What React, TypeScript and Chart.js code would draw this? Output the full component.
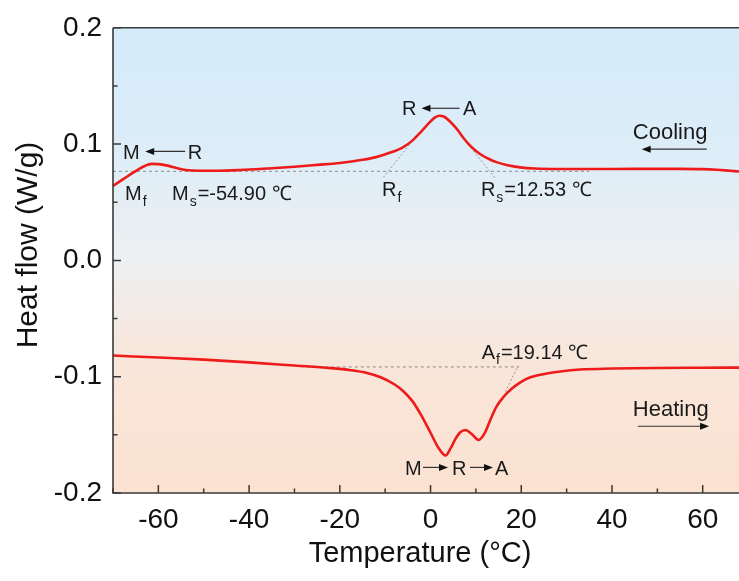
import React, { useEffect, useRef } from 'react';
import { Chart, registerables } from 'chart.js';

Chart.register(...registerables);

// ---- data (temperature in °C, heat flow in W/g) ----
const coolingT = [-70, -67.5, -65, -63, -61.5, -60, -58, -56, -54, -51, -47, -42, -36, -30, -25, -20, -15, -12, -9, -6, -4, -2, 0, 1, 2, 3, 4.4, 6, 7.3, 9, 11, 13, 14.7, 17, 19.8, 23, 28, 35, 45, 55, 60, 63, 66, 68];
const coolingHF = [0.064, 0.0705, 0.0768, 0.0812, 0.083, 0.0828, 0.0815, 0.0795, 0.0778, 0.0771, 0.0771, 0.0777, 0.079, 0.0805, 0.0821, 0.0838, 0.0865, 0.0888, 0.0925, 0.0975, 0.103, 0.111, 0.1195, 0.123, 0.1244, 0.1235, 0.119, 0.112, 0.105, 0.0975, 0.0913, 0.087, 0.0843, 0.0818, 0.08, 0.079, 0.0786, 0.0786, 0.0787, 0.0787, 0.0785, 0.078, 0.0771, 0.0765];

const heatingT = [-70, -60, -50, -40, -30, -22, -17.6, -14, -11, -8, -6, -4, -2, 0, 1.8, 3.3, 4.5, 5.5, 6.5, 7.7, 9, 10.6, 12, 13.2, 14.5, 16.1, 18, 19.8, 22, 24.2, 28.6, 33, 40, 50, 60, 68];
const heatingHF = [-0.0818, -0.0835, -0.0853, -0.0877, -0.0904, -0.0926, -0.0944, -0.0968, -0.1005, -0.1065, -0.1125, -0.121, -0.1335, -0.1482, -0.1615, -0.1678, -0.161, -0.1535, -0.148, -0.1458, -0.149, -0.1544, -0.148, -0.137, -0.126, -0.1174, -0.11, -0.1048, -0.1005, -0.0983, -0.0955, -0.0938, -0.093, -0.0925, -0.0923, -0.0922];

const coolBaseT = [-70, 35];
const coolBaseHF = [0.0766, 0.0766];
const heatBaseT = [-28.6, 19.5];
const heatBaseHF = [-0.0916, -0.0916];
const rfTangentT = [-10.4, -3.7];
const rfTangentHF = [0.0714, 0.104];
const rsTangentT = [9.5, 14.3];
const rsTangentHF = [0.094, 0.0706];
const afTangentT = [16.5, 19.3];
const afTangentHF = [-0.113, -0.0905];

const xMin = -70;
const xMax = 68;
const yMin = -0.2;
const yMax = 0.2;
const xStep = 20;
const yStep = 0.1;

const xTitle = 'Temperature (°C)';
const yTitle = 'Heat flow (W/g)';

const FONT = 'Arial, "Liberation Sans", Helvetica, sans-serif';

const toPts = (xs: number[], ys: number[]) => xs.map((x, i) => ({ x, y: ys[i] }));

type Part = { t: string; sub?: boolean };

function drawParts(ctx: CanvasRenderingContext2D, x: number, yc: number, parts: Part[], fs: number) {
  let cx = x;
  const base = yc + 0.358 * fs;
  ctx.textAlign = 'left';
  ctx.textBaseline = 'alphabetic';
  for (const p of parts) {
    if (p.sub) {
      ctx.font = `${Math.round(fs * 0.68)}px ${FONT}`;
      ctx.fillText(p.t, cx + 1, base + fs * 0.28);
      cx += ctx.measureText(p.t).width + 2;
    } else {
      ctx.font = `${fs}px ${FONT}`;
      ctx.fillText(p.t, cx, base);
      cx += ctx.measureText(p.t).width;
    }
  }
}

function arrow(ctx: CanvasRenderingContext2D, x1: number, y1: number, x2: number, y2: number) {
  const hl = 9;
  const hw = 3.5;
  const dir = Math.sign(x2 - x1) || 1;
  ctx.save();
  ctx.strokeStyle = '#333';
  ctx.fillStyle = '#111';
  ctx.lineWidth = 1.2;
  ctx.beginPath();
  ctx.moveTo(x1, y1);
  ctx.lineTo(x2 - dir * hl * 0.8, y2);
  ctx.stroke();
  ctx.beginPath();
  ctx.moveTo(x2, y2);
  ctx.lineTo(x2 - dir * hl, y2 - hw);
  ctx.lineTo(x2 - dir * hl, y2 + hw);
  ctx.closePath();
  ctx.fill();
  ctx.restore();
}

const decorPlugin = {
  id: 'decor',
  beforeDraw(chart: any) {
    const { ctx, chartArea: a } = chart;
    ctx.save();
    const g = ctx.createLinearGradient(0, a.top, 0, a.bottom);
    g.addColorStop(0, '#d4ebfa');
    g.addColorStop(0.25, '#dcedf8');
    g.addColorStop(0.5, '#edeff1');
    g.addColorStop(0.72, '#f9e6da');
    g.addColorStop(1, '#fbe2d1');
    ctx.fillStyle = g;
    ctx.fillRect(a.left, a.top, a.right - a.left, a.bottom - a.top);
    ctx.restore();
  },
  afterDraw(chart: any) {
    const { ctx, chartArea: a } = chart;
    const xs = chart.scales.x;
    const ys = chart.scales.y;
    const X = (v: number) => xs.getPixelForValue(v);
    const Y = (v: number) => ys.getPixelForValue(v);
    ctx.save();
    // axes lines
    ctx.strokeStyle = '#3a3a3a';
    ctx.lineWidth = 1.6;
    ctx.beginPath();
    ctx.moveTo(a.left, a.top);
    ctx.lineTo(a.right, a.top);
    ctx.moveTo(a.left, a.top);
    ctx.lineTo(a.left, a.bottom);
    ctx.lineTo(a.right, a.bottom);
    ctx.stroke();
    // inward ticks
    ctx.lineWidth = 1.5;
    ctx.beginPath();
    const xt = xs.ticks.map((t: any) => t.value);
    const xAll: number[] = [];
    xt.forEach((v: number, i: number) => {
      xAll.push(v);
      xAll.push(v - xStep / 2);
      if (i === xt.length - 1) xAll.push(v + xStep / 2);
    });
    xAll.forEach((v) => {
      if (v < xMin || v > xMax) return;
      const major = xt.includes(v);
      const px = X(v);
      ctx.moveTo(px, a.bottom);
      ctx.lineTo(px, a.bottom - (major ? 8 : 4.5));
    });
    const yt = ys.ticks.map((t: any) => t.value);
    yt.forEach((v: number, i: number) => {
      const py = Y(v);
      ctx.moveTo(a.left, py);
      ctx.lineTo(a.left + 8, py);
      if (i < yt.length - 1) {
        const pm = Y((v + yt[i + 1]) / 2);
        ctx.moveTo(a.left, pm);
        ctx.lineTo(a.left + 4.5, pm);
      }
    });
    ctx.stroke();

    // titles
    ctx.fillStyle = '#111';
    ctx.font = `29px ${FONT}`;
    ctx.textAlign = 'center';
    ctx.textBaseline = 'alphabetic';
    ctx.fillText(xTitle, (a.left + a.right) / 2 - 6, 562);
    ctx.save();
    ctx.translate(26, 245);
    ctx.rotate(-Math.PI / 2);
    ctx.font = `30px ${FONT}`;
    ctx.fillText(yTitle, 0, 0.358 * 30);
    ctx.restore();

    // annotations
    ctx.fillStyle = '#1a1a1a';
    const fs = 20;
    // M <- R
    drawParts(ctx, X(-67.8), Y(0.0937), [{ t: 'M' }], fs);
    arrow(ctx, X(-54.1), Y(0.0937), X(-62.9), Y(0.0937));
    drawParts(ctx, X(-53.5), Y(0.0937), [{ t: 'R' }], fs);
    drawParts(ctx, X(-67.35), Y(0.0578), [{ t: 'M' }, { t: 'f', sub: true }], fs);
    drawParts(ctx, X(-57.0), Y(0.0578), [{ t: 'M' }, { t: 's', sub: true }, { t: '=-54.90 ℃' }], fs);
    // R <- A
    drawParts(ctx, X(-6.3), Y(0.1308), [{ t: 'R' }], fs);
    arrow(ctx, X(6.4), Y(0.1308), X(-2.0), Y(0.1308));
    drawParts(ctx, X(7.16), Y(0.1308), [{ t: 'A' }], fs);
    drawParts(ctx, X(-10.7), Y(0.0612), [{ t: 'R' }, { t: 'f', sub: true }], fs);
    drawParts(ctx, X(11.1), Y(0.0612), [{ t: 'R' }, { t: 's', sub: true }, { t: '=12.53 ℃' }], fs);
    // Cooling
    drawParts(ctx, X(44.6), Y(0.1114), [{ t: 'Cooling' }], 22);
    arrow(ctx, X(60.9), Y(0.0956), X(46.55), Y(0.0956));
    // Af
    drawParts(ctx, X(11.28), Y(-0.0785), [{ t: 'A' }, { t: 'f', sub: true }, { t: '=19.14 ℃' }], fs);
    // Heating
    drawParts(ctx, X(44.6), Y(-0.1266), [{ t: 'Heating' }], 22);
    arrow(ctx, X(45.7), Y(-0.1426), X(61.4), Y(-0.1426));
    // M -> R -> A
    drawParts(ctx, X(-5.63), Y(-0.178), [{ t: 'M' }], fs);
    arrow(ctx, X(-1.66), Y(-0.178), X(3.85), Y(-0.178));
    drawParts(ctx, X(4.73), Y(-0.178), [{ t: 'R' }], fs);
    arrow(ctx, X(8.7), Y(-0.178), X(13.77), Y(-0.178));
    drawParts(ctx, X(14.2), Y(-0.178), [{ t: 'A' }], fs);
    ctx.restore();
  },
};

export default function App() {
  const ref = useRef<HTMLCanvasElement | null>(null);
  useEffect(() => {
    if (!ref.current) return;
    const red = '#ee1b1b';
    const chart = new Chart(ref.current, {
      type: 'scatter',
      data: {
        datasets: [
          { label: 'Cooling', data: toPts(coolingT, coolingHF), showLine: true, borderColor: red, borderWidth: 2.6, pointRadius: 0, cubicInterpolationMode: 'monotone' } as any,
          { label: 'Heating', data: toPts(heatingT, heatingHF), showLine: true, borderColor: red, borderWidth: 2.6, pointRadius: 0, cubicInterpolationMode: 'monotone' } as any,
          { label: 'base1', data: toPts(coolBaseT, coolBaseHF), showLine: true, borderColor: '#8c8c8c', borderWidth: 1, borderDash: [3, 3], pointRadius: 0 },
          { label: 'base2', data: toPts(heatBaseT, heatBaseHF), showLine: true, borderColor: '#8c8c8c', borderWidth: 1, borderDash: [3, 3], pointRadius: 0 },
          { label: 'tRf', data: toPts(rfTangentT, rfTangentHF), showLine: true, borderColor: '#9a9a9a', borderWidth: 1, borderDash: [2, 2], pointRadius: 0 },
          { label: 'tRs', data: toPts(rsTangentT, rsTangentHF), showLine: true, borderColor: '#9a9a9a', borderWidth: 1, borderDash: [2, 2], pointRadius: 0 },
          { label: 'tAf', data: toPts(afTangentT, afTangentHF), showLine: true, borderColor: '#9a9a9a', borderWidth: 1, borderDash: [2, 2], pointRadius: 0 },
        ],
      },
      options: {
        animation: false,
        responsive: false,
        layout: { padding: { top: 19, right: 0, bottom: 0, left: 0 } },
        plugins: { legend: { display: false }, tooltip: { enabled: false } },
        scales: {
          x: {
            type: 'linear',
            min: xMin,
            max: xMax,
            grid: { display: false, drawTicks: false },
            border: { display: false },
            ticks: { stepSize: xStep, includeBounds: false, padding: 10, color: '#111', font: { family: FONT, size: 28 }, maxRotation: 0 },
            afterFit: (s: any) => { s.height = 88; },
          },
          y: {
            type: 'linear',
            min: yMin,
            max: yMax,
            grid: { display: false, drawTicks: false },
            border: { display: false },
            ticks: {
              stepSize: yStep,
              padding: 11,
              color: '#111',
              font: { family: FONT, size: 28 },
              callback: (v: any) => (Math.abs(Number(v)) < 1e-9 ? '0.0' : Number(v).toFixed(1)),
            },
            afterFit: (s: any) => { s.width = 113; },
          },
        },
      } as any,
      plugins: [decorPlugin],
    });
    return () => chart.destroy();
  }, []);
  return (
    <div style={{ position: 'fixed', left: 0, top: 0, width: 739, height: 581, background: '#fff' }}>
      <canvas ref={ref} width={739} height={581} style={{ display: 'block' }} />
    </div>
  );
}
